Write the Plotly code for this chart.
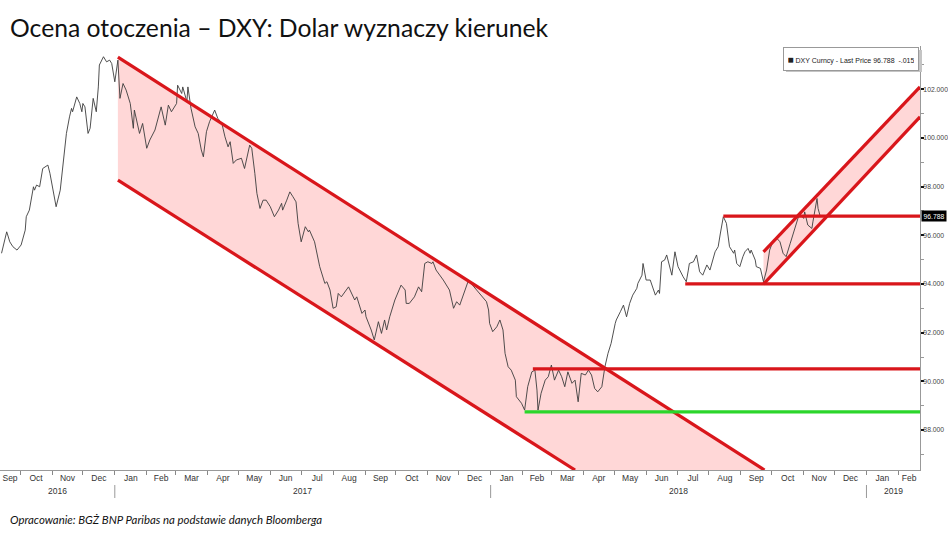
import plotly.graph_objects as go
import pandas as pd

# ---------------- data ----------------
dates = [
    "2016-09-13","2016-09-18","2016-09-19","2016-09-21","2016-09-24","2016-09-28","2016-10-02","2016-10-06",
    "2016-10-07","2016-10-10","2016-10-14","2016-10-15","2016-10-17","2016-10-20","2016-10-23","2016-10-28",
    "2016-10-30","2016-11-02","2016-11-05","2016-11-09","2016-11-12","2016-11-15","2016-11-18","2016-11-20",
    "2016-11-21","2016-11-25","2016-11-28","2016-11-30","2016-12-01","2016-12-03","2016-12-06","2016-12-08",
    "2016-12-11","2016-12-14","2016-12-16","2016-12-17","2016-12-21","2016-12-24","2016-12-27","2016-12-29",
    "2017-01-01","2017-01-03","2017-01-04","2017-01-06","2017-01-09","2017-01-12","2017-01-16","2017-01-19",
    "2017-01-20","2017-01-25","2017-01-28","2017-02-01","2017-02-04","2017-02-09","2017-02-12","2017-02-15",
    "2017-02-19","2017-02-22","2017-02-25","2017-03-02","2017-03-03","2017-03-07","2017-03-08","2017-03-12",
    "2017-03-13","2017-03-16","2017-03-20","2017-03-23","2017-03-26","2017-03-28","2017-03-31","2017-04-03",
    "2017-04-08","2017-04-11","2017-04-15","2017-04-18","2017-04-21","2017-04-23","2017-04-26","2017-04-29",
    "2017-05-04","2017-05-07","2017-05-12","2017-05-14","2017-05-17","2017-05-19","2017-05-22","2017-05-25",
    "2017-05-28","2017-06-01","2017-06-05","2017-06-09","2017-06-12","2017-06-13","2017-06-17","2017-06-20",
    "2017-06-23","2017-06-26","2017-06-28","2017-07-01","2017-07-05","2017-07-08","2017-07-09","2017-07-14",
    "2017-07-19","2017-07-24","2017-07-26","2017-07-29","2017-08-01","2017-08-04","2017-08-06","2017-08-09",
    "2017-08-16","2017-08-19","2017-08-22","2017-08-24","2017-08-29","2017-09-01","2017-09-02","2017-09-07",
    "2017-09-10","2017-09-14","2017-09-17","2017-09-20","2017-09-22","2017-09-25","2017-09-30","2017-10-06",
    "2017-10-10","2017-10-11","2017-10-14","2017-10-19","2017-10-23","2017-10-26","2017-10-29","2017-11-01",
    "2017-11-05","2017-11-06","2017-11-09","2017-11-16","2017-11-22","2017-11-26","2017-11-29","2017-12-02",
    "2017-12-05","2017-12-10","2017-12-13","2017-12-17","2017-12-20","2017-12-25","2017-12-28","2017-12-30",
    "2017-12-31","2018-01-03","2018-01-07","2018-01-10","2018-01-13","2018-01-15","2018-01-18","2018-01-21",
    "2018-01-25","2018-01-26","2018-01-29","2018-01-31","2018-02-03","2018-02-06","2018-02-10","2018-02-13",
    "2018-02-15","2018-02-16","2018-02-19","2018-02-23","2018-02-26","2018-03-01","2018-03-04","2018-03-08",
    "2018-03-11","2018-03-14","2018-03-17","2018-03-21","2018-03-24","2018-03-27","2018-03-30","2018-04-03",
    "2018-04-06","2018-04-09","2018-04-12","2018-04-15","2018-04-19","2018-04-22","2018-04-25","2018-04-28",
    "2018-05-02","2018-05-03","2018-05-07","2018-05-10","2018-05-13","2018-05-16","2018-05-19","2018-05-23",
    "2018-05-24","2018-05-28","2018-05-29","2018-06-01","2018-06-05","2018-06-08","2018-06-10","2018-06-13",
    "2018-06-14","2018-06-16","2018-06-19","2018-06-21","2018-06-24","2018-06-26","2018-06-29","2018-07-02",
    "2018-07-07","2018-07-10","2018-07-12","2018-07-13","2018-07-17","2018-07-20","2018-07-23","2018-07-26",
    "2018-07-30","2018-08-02","2018-08-07","2018-08-10","2018-08-12","2018-08-15","2018-08-18","2018-08-20",
    "2018-08-21","2018-08-25","2018-08-26","2018-08-28","2018-08-31","2018-09-03","2018-09-05","2018-09-08",
    "2018-09-10","2018-09-11","2018-09-15","2018-09-16","2018-09-20","2018-09-23","2018-09-26","2018-09-29",
    "2018-10-02","2018-10-06","2018-10-09","2018-10-12","2018-10-15","2018-10-19","2018-10-22","2018-10-25",
    "2018-10-28","2018-11-01","2018-11-02","2018-11-05","2018-11-09","2018-11-10","2018-11-12","2018-11-14",
    "2018-11-15","2018-11-17",
]
prices = [
    95.26, 96.14, 96.01, 95.73, 95.53, 95.39, 95.60, 96.21,
    96.76, 97.03, 97.99, 97.85, 98.06, 97.99, 98.74, 98.88,
    98.54, 97.85, 97.17, 97.85, 99.09, 100.18, 100.86, 101.21,
    101.07, 101.68, 101.41, 101.07, 101.41, 101.27, 100.18, 100.39,
    101.62, 101.07, 102.09, 102.99, 103.33, 103.12, 103.19, 103.05,
    102.30, 103.05, 103.19, 101.62, 102.23, 101.96, 101.41, 100.39,
    101.14, 100.18, 100.59, 99.57, 99.91, 100.32, 100.86, 101.27,
    100.52, 101.34, 101.07, 101.41, 102.16, 101.82, 102.09, 101.48,
    102.09, 101.21, 100.45, 100.18, 99.50, 99.22, 100.25, 100.66,
    101.14, 100.80, 100.59, 100.04, 99.63, 99.84, 98.95, 99.09,
    99.16, 98.74, 99.70, 99.57, 98.54, 97.72, 97.10, 97.44,
    97.44, 97.17, 96.76, 97.03, 97.31, 97.03, 97.44, 97.78,
    97.58, 97.37, 96.49, 95.73, 96.35, 96.14, 96.21, 95.73,
    94.71, 94.02, 94.09, 93.75, 93.00, 93.06, 93.61, 93.47,
    93.88, 93.61, 93.34, 93.47, 92.79, 92.93, 92.65, 92.11,
    91.70, 92.45, 91.97, 92.52, 92.11, 92.65, 93.34, 93.95,
    93.75, 93.20, 93.20, 93.47, 93.88, 93.68, 94.84, 94.91,
    94.84, 94.91, 94.57, 94.16, 93.75, 93.00, 93.27, 93.13,
    93.47, 94.09, 94.02, 93.82, 93.68, 93.41, 93.27, 92.93,
    92.38, 92.04, 92.24, 92.52, 92.11, 91.15, 90.60, 90.46,
    90.05, 89.37, 89.23, 89.10, 88.82, 89.78, 90.39, 90.46,
    89.64, 88.82, 89.51, 90.05, 90.19, 90.67, 90.05, 90.46,
    90.19, 89.78, 90.39, 89.92, 90.05, 89.16, 90.33, 90.26,
    90.46, 90.26, 89.71, 89.57, 89.78, 90.60, 91.15, 91.56,
    92.38, 92.52, 92.86, 93.13, 92.65, 93.20, 93.54, 93.82,
    94.02, 94.36, 94.84, 94.16, 94.16, 93.75, 93.54, 93.75,
    93.61, 94.91, 94.98, 95.19, 94.71, 94.36, 95.32, 94.71,
    94.29, 94.09, 94.57, 94.84, 94.91, 95.19, 94.50, 94.36,
    94.78, 94.57, 95.32, 95.53, 96.05, 96.76, 96.49, 95.94,
    95.53, 95.26, 95.39, 94.84, 94.71, 95.12, 95.32, 95.46,
    95.26, 95.39, 94.98, 94.71, 94.64, 94.09, 94.57, 95.39,
    95.73, 95.87, 95.73, 95.26, 95.12, 95.67, 96.08, 96.42,
    96.90, 96.69, 96.96, 96.42, 96.28, 96.55, 96.96, 97.51,
    97.10, 96.79,
]

# trend channels (start / end points)
down_upper_dates = ["2017-01-04", "2018-09-24"]
down_upper_vals = [103.31, 86.36]
down_lower_dates = ["2017-01-04", "2018-03-24"]
down_lower_vals = [98.26, 86.36]
up_lower_dates = ["2018-09-23", "2019-02-22"]
up_lower_vals = [93.99, 100.86]
up_upper_dates = ["2018-09-23", "2019-02-22"]
up_upper_vals = [95.32, 102.09]

# horizontal levels
red_levels = [96.788, 94.0, 90.51]
red_level_starts = ["2018-08-15", "2018-07-09", "2018-02-11"]
green_level = 88.75
green_level_start = "2018-02-03"
level_end = "2019-03-31"

last_price = 96.788
change = "-.015"

x_range = ["2016-09-11 12:00", "2019-02-22"]
y_range = [86.36, 103.77]
y_tick_vals = [88, 90, 92, 94, 96, 98, 100, 102]
month_labels = ["Sep", "Oct", "Nov", "Dec",
                "Jan", "Feb", "Mar", "Apr", "May", "Jun", "Jul", "Aug", "Sep", "Oct", "Nov", "Dec",
                "Jan", "Feb", "Mar", "Apr", "May", "Jun", "Jul", "Aug", "Sep", "Oct", "Nov", "Dec",
                "Jan", "Feb"]
year_labels = ["2016", "2017", "2018", "2019"]

title_text = "Ocena otoczenia – DXY: Dolar wyznaczy kierunek"
source_text = "Opracowanie: BGŻ BNP Paribas na podstawie danych Bloomberga"

# ---------------- figure ----------------
RED = "#d9161b"
PINK = "#ffd7d7"
GREEN = "#2bd62b"
AX_FONT = "Liberation Sans, Arial, sans-serif"

W, H = 948, 533
ML, MR, MT, MB = 0, 28, 46, 63
PW, PH = W - ML - MR, H - MT - MB


def px_x(p):
    return (p - ML) / PW


def px_y(p):
    return (H - MB - p) / PH


fig = go.Figure()

# down channel fill
fig.add_trace(go.Scatter(
    x=[down_upper_dates[0], down_upper_dates[1], down_lower_dates[1], down_lower_dates[0]],
    y=[down_upper_vals[0], down_upper_vals[1], down_lower_vals[1], down_lower_vals[0]],
    fill="toself", fillcolor=PINK, mode="lines", line=dict(width=0), hoverinfo="skip"))
# up channel fill
fig.add_trace(go.Scatter(
    x=[up_lower_dates[0], up_lower_dates[1], up_upper_dates[1], up_upper_dates[0]],
    y=[up_lower_vals[0], up_lower_vals[1], up_upper_vals[1], up_upper_vals[0]],
    fill="toself", fillcolor=PINK, mode="lines", line=dict(width=0), hoverinfo="skip"))

# price line
fig.add_trace(go.Scatter(x=pd.to_datetime(dates), y=prices, mode="lines",
                         line=dict(color="#3c3c3c", width=0.9)))

# channel lines
for xs, ys in [(down_upper_dates, down_upper_vals), (down_lower_dates, down_lower_vals),
               (up_lower_dates, up_lower_vals), (up_upper_dates, up_upper_vals)]:
    fig.add_trace(go.Scatter(x=xs, y=ys, mode="lines", line=dict(color=RED, width=3.2)))

# horizontal levels
for lv, st in zip(red_levels, red_level_starts):
    fig.add_trace(go.Scatter(x=[st, level_end], y=[lv, lv], mode="lines",
                             line=dict(color=RED, width=3.2)))
fig.add_trace(go.Scatter(x=[green_level_start, level_end], y=[green_level, green_level],
                         mode="lines", line=dict(color=GREEN, width=3.2)))

# month tick labels at the centre of each visible month
r0, r1 = pd.Timestamp(x_range[0]), pd.Timestamp(x_range[1])
month_starts = pd.date_range("2016-09-01", periods=len(month_labels) + 1, freq="MS")
tick_vals = []
for i in range(len(month_labels)):
    a = max(month_starts[i], r0)
    b = min(month_starts[i + 1], r1)
    tick_vals.append(a + (b - a) / 2)

annotations = []
shapes = []
for i, yl in enumerate(year_labels):
    a = max(pd.Timestamp(f"{yl}-01-01"), r0)
    b = min(pd.Timestamp(f"{int(yl) + 1}-01-01"), r1)
    annotations.append(dict(x=a + (b - a) / 2, xref="x", y=px_y(491), yref="paper", text=yl,
                            showarrow=False, font=dict(family=AX_FONT, size=8.5, color="#333"),
                            yanchor="middle"))
    if i > 0:
        shapes.append(dict(type="line", xref="x", yref="paper",
                           x0=f"{yl}-01-01", x1=f"{yl}-01-01", y0=px_y(485), y1=px_y(498),
                           line=dict(color="#999", width=1)))

# title and source
annotations.append(dict(x=px_x(8), xref="paper", y=px_y(28), yref="paper", text=title_text,
                        showarrow=False, xanchor="left", yanchor="middle",
                        font=dict(family="Lato, Open Sans, sans-serif", size=24.7, color="#111")))
annotations.append(dict(x=px_x(8), xref="paper", y=px_y(519), yref="paper",
                        text="<i>" + source_text + "</i>",
                        showarrow=False, xanchor="left", yanchor="middle",
                        font=dict(family="Lato, Open Sans, sans-serif", size=11.4, color="#111")))

# legend box with a soft shadow
shapes.append(dict(type="rect", xref="paper", yref="paper",
                   x0=px_x(786), x1=px_x(922), y0=px_y(72), y1=px_y(50),
                   fillcolor="#c4c4c4", line=dict(width=0), layer="above"))
leg_text = f"<span style='font-size:10px'>■</span> DXY Curncy - Last Price {last_price:.3f}  {change}"
annotations.append(dict(x=px_x(919), xref="paper", y=px_y(59), yref="paper", text=leg_text,
                        showarrow=False, xanchor="right", yanchor="middle",
                        width=126, height=14, align="center",
                        bgcolor="white", bordercolor="#999", borderwidth=1, borderpad=4,
                        font=dict(family=AX_FONT, size=7, color="#222")))

# last price box on the axis
annotations.append(dict(x=1, xref="paper", y=last_price, yref="y", text=f"{last_price:.3f}",
                        showarrow=False, xanchor="left", yanchor="middle", xshift=1,
                        bgcolor="black", borderpad=1.5,
                        font=dict(family=AX_FONT, size=6.8, color="white")))

fig.update_layout(
    width=W, height=H,
    margin=dict(l=ML, r=MR, t=MT, b=MB),
    paper_bgcolor="white", plot_bgcolor="white",
    showlegend=False,
    annotations=annotations, shapes=shapes,
    xaxis=dict(range=x_range, type="date", showgrid=False, zeroline=False,
               showline=True, linecolor="#999", linewidth=1,
               tickmode="array", tickvals=tick_vals, ticktext=month_labels,
               ticks="", ticklabelstandoff=0,
               tickfont=dict(family=AX_FONT, size=8.5, color="#333"),
               minor=dict(tickmode="array", tickvals=list(month_starts), ticks="outside",
                          ticklen=4, tickcolor="#888", tickwidth=1)),
    yaxis=dict(range=y_range, side="right", showgrid=False, zeroline=False,
               showline=True, linecolor="#999", linewidth=1,
               tickmode="array", tickvals=y_tick_vals, tickformat=".3f",
               ticks="outside", ticklen=3, tickwidth=2, tickcolor="#111",
               ticklabelstandoff=-2,
               tickfont=dict(family=AX_FONT, size=6.8, color="#444"),
               minor=dict(tickmode="linear", tick0=87, dtick=2, ticks="outside",
                          ticklen=3, tickcolor="#999", tickwidth=1)),
)

fig.write_html("out.html", config={"displayModeBar": False},
               post_script="document.body.style.margin='0';document.body.style.padding='0';")
